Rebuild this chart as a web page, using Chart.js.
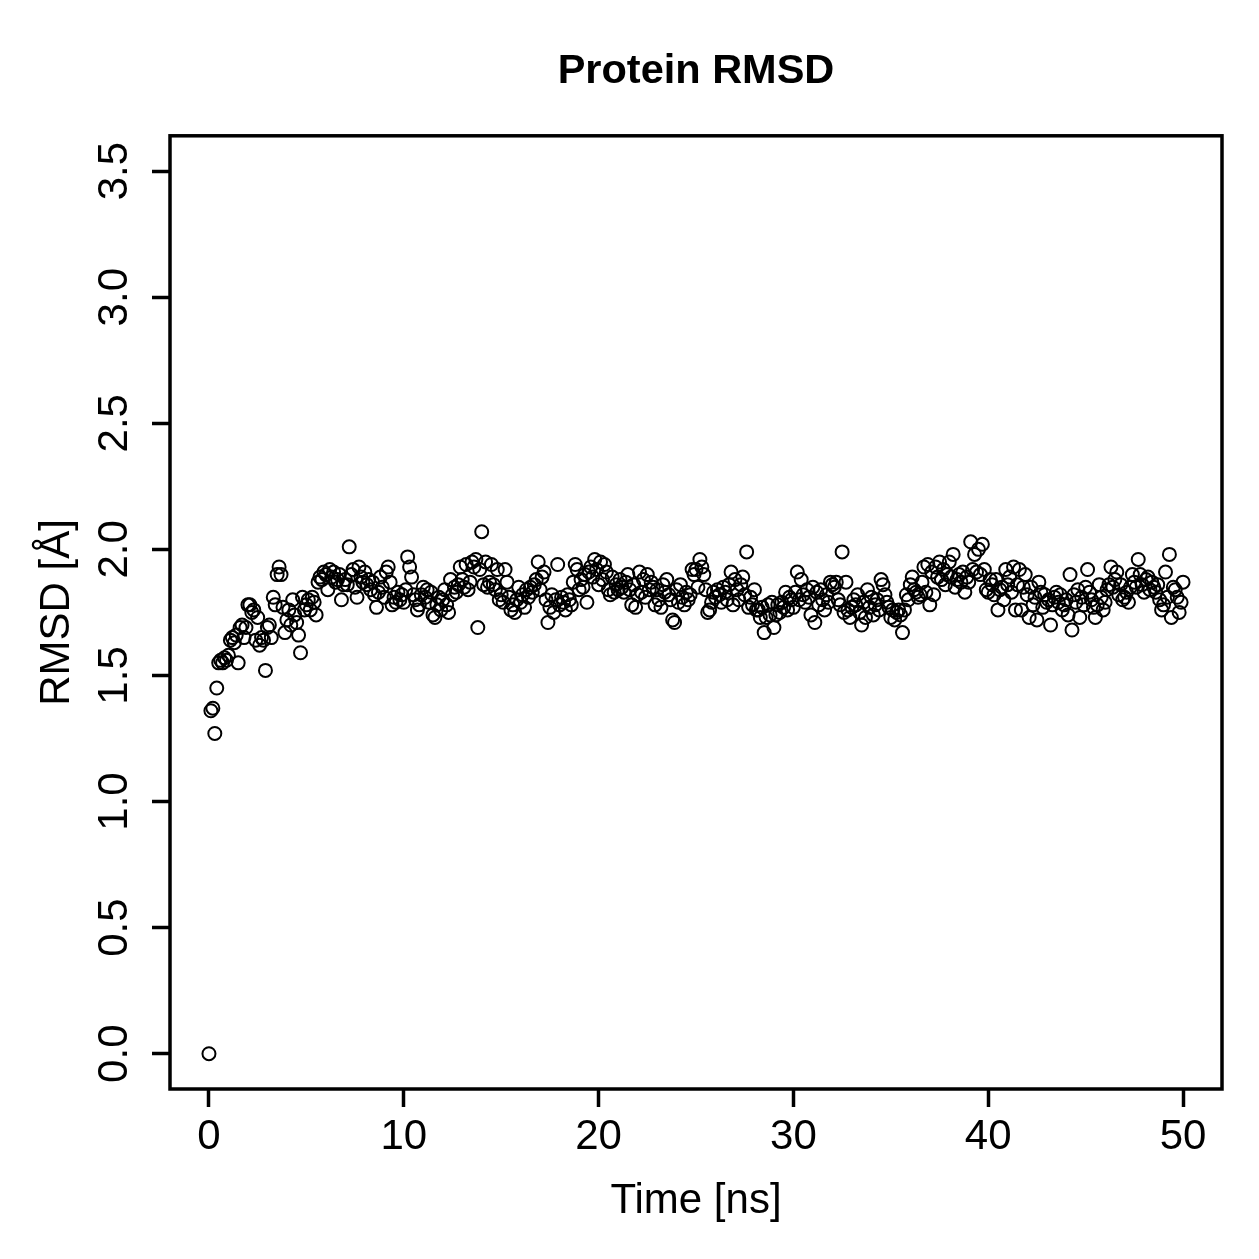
<!DOCTYPE html>
<html>
<head>
<meta charset="utf-8">
<title>Protein RMSD</title>
<script src="https://cdn.jsdelivr.net/npm/chart.js@4.4.1/dist/chart.umd.min.js"></script>
<style>
  html, body { margin: 0; padding: 0; background: #fff; }
  #chart { display: block; }
</style>
</head>
<body>
<canvas id="chart" width="1259" height="1259"></canvas>
<script>
// RMSD samples every 0.1 ns, in 5 ns blocks
const timeStepNs = 0.1;

const rmsd_00_05 = [0.00,1.36,1.37,1.27,1.45,1.55,1.56,1.55,1.57,1.56,
  1.58,1.64,1.65,1.63,1.66,1.55,1.69,1.70,1.65,1.69,
  1.78,1.78,1.75,1.76,1.64,1.73,1.62,1.65,1.64,1.52,
  1.69,1.70,1.65,1.81,1.78,1.90,1.93,1.90,1.77,1.67,
  1.72,1.76,1.70,1.80,1.74,1.71,1.66,1.59,1.81,1.76];
const rmsd_05_10 = [1.78,1.80,1.76,1.81,1.79,1.74,1.87,1.89,1.88,1.91,
  1.90,1.84,1.92,1.89,1.91,1.87,1.88,1.90,1.80,1.86,
  1.88,1.86,2.01,1.90,1.92,1.85,1.81,1.93,1.89,1.87,
  1.91,1.86,1.88,1.84,1.87,1.82,1.77,1.83,1.89,1.85,
  1.81,1.91,1.93,1.87,1.78,1.81,1.79,1.83,1.80,1.82];
const rmsd_10_15 = [1.79,1.84,1.97,1.93,1.89,1.82,1.80,1.76,1.78,1.82,
  1.85,1.81,1.84,1.79,1.83,1.74,1.73,1.78,1.81,1.76,
  1.80,1.84,1.78,1.75,1.88,1.82,1.85,1.83,1.86,1.93,
  1.88,1.85,1.94,1.84,1.87,1.95,1.93,1.96,1.69,1.92,
  2.07,1.86,1.95,1.85,1.87,1.94,1.86,1.84,1.92,1.80];
const rmsd_15_20 = [1.82,1.79,1.92,1.87,1.81,1.76,1.78,1.75,1.80,1.85,
  1.79,1.82,1.77,1.84,1.81,1.85,1.83,1.86,1.88,1.95,
  1.84,1.89,1.91,1.80,1.71,1.77,1.82,1.75,1.80,1.94,
  1.78,1.81,1.79,1.76,1.82,1.80,1.78,1.87,1.94,1.92,
  1.84,1.88,1.85,1.90,1.79,1.91,1.93,1.89,1.96,1.92];
const rmsd_20_25 = [1.86,1.95,1.88,1.94,1.91,1.84,1.82,1.89,1.83,1.86,
  1.84,1.88,1.85,1.83,1.87,1.90,1.84,1.78,1.86,1.77,
  1.82,1.91,1.83,1.88,1.81,1.90,1.84,1.87,1.85,1.78,
  1.84,1.80,1.77,1.86,1.83,1.88,1.82,1.80,1.72,1.71,
  1.84,1.79,1.86,1.81,1.78,1.83,1.80,1.82,1.92,1.90];
const rmsd_25_30 = [1.92,1.85,1.96,1.93,1.90,1.84,1.75,1.76,1.79,1.83,
  1.81,1.84,1.82,1.79,1.85,1.83,1.80,1.86,1.91,1.78,
  1.88,1.84,1.80,1.86,1.89,1.82,1.99,1.77,1.81,1.78,
  1.84,1.76,1.76,1.73,1.77,1.67,1.73,1.78,1.74,1.79,
  1.69,1.74,1.78,1.75,1.79,1.77,1.83,1.76,1.81,1.80];
const rmsd_30_35 = [1.77,1.83,1.91,1.80,1.88,1.82,1.79,1.84,1.81,1.74,
  1.85,1.71,1.83,1.78,1.84,1.80,1.76,1.82,1.79,1.87,
  1.86,1.85,1.87,1.80,1.78,1.99,1.75,1.87,1.76,1.73,
  1.77,1.80,1.78,1.82,1.75,1.70,1.79,1.73,1.84,1.77,
  1.81,1.74,1.78,1.80,1.76,1.88,1.86,1.82,1.79,1.77];
const rmsd_35_40 = [1.73,1.76,1.72,1.75,1.76,1.74,1.67,1.76,1.82,1.80,
  1.86,1.89,1.84,1.83,1.81,1.82,1.87,1.93,1.83,1.94,
  1.78,1.91,1.82,1.93,1.89,1.95,1.88,1.92,1.86,1.90,
  1.95,1.89,1.98,1.85,1.88,1.90,1.87,1.91,1.83,1.89,
  1.87,2.03,1.92,1.98,1.91,2.00,1.90,2.02,1.92,1.84];
const rmsd_40_45 = [1.83,1.88,1.86,1.82,1.88,1.76,1.84,1.85,1.80,1.92,
  1.86,1.89,1.83,1.93,1.76,1.86,1.92,1.76,1.85,1.90,
  1.82,1.73,1.85,1.78,1.81,1.72,1.87,1.83,1.77,1.82,
  1.79,1.80,1.70,1.78,1.81,1.83,1.79,1.82,1.76,1.78,
  1.80,1.74,1.90,1.68,1.82,1.79,1.84,1.73,1.81,1.78];
const rmsd_45_50 = [1.85,1.92,1.83,1.80,1.77,1.73,1.78,1.86,1.81,1.76,
  1.79,1.84,1.86,1.93,1.85,1.88,1.91,1.82,1.86,1.80,
  1.81,1.83,1.79,1.85,1.90,1.87,1.85,1.96,1.90,1.86,
  1.83,1.88,1.89,1.84,1.87,1.85,1.83,1.86,1.80,1.76,
  1.78,1.91,1.81,1.98,1.73,1.85,1.84,1.81,1.75,1.79];
const rmsd_50 = [1.87];

const xTickValues = [0, 10, 20, 30, 40, 50];
const yTickValues = [0, 0.5, 1.0, 1.5, 2.0, 2.5, 3.0, 3.5];

const rmsd = [].concat(rmsd_00_05, rmsd_05_10, rmsd_10_15, rmsd_15_20, rmsd_20_25,
  rmsd_25_30, rmsd_30_35, rmsd_35_40, rmsd_40_45, rmsd_45_50, rmsd_50);
const points = rmsd.map((v, i) => ({ x: +(i * timeStepNs).toFixed(1), y: v }));

const FONT = 'Liberation Sans, Arial, Helvetica, sans-serif';

// R style box round the plot region
const boxPlugin = {
  id: 'plotBox',
  afterDraw(chart) {
    const a = chart.chartArea;
    const ctx = chart.ctx;
    ctx.save();
    ctx.strokeStyle = '#000';
    ctx.lineWidth = 3.5;
    ctx.strokeRect(a.left, a.top, a.right - a.left, a.bottom - a.top);
    ctx.restore();
  }
};

new Chart(document.getElementById('chart'), {
  type: 'scatter',
  data: {
    datasets: [{
      data: points,
      pointStyle: 'circle',
      pointRadius: 6.5,
      pointHoverRadius: 6.5,
      borderWidth: 2,
      borderColor: '#000',
      backgroundColor: 'rgba(0,0,0,0)'
    }]
  },
  options: {
    responsive: false,
    animation: false,
    devicePixelRatio: 1,
    layout: { padding: { top: 0, right: 37, bottom: 0, left: 0 } },
    plugins: {
      legend: { display: false },
      tooltip: { enabled: false },
      title: {
        display: true,
        text: 'Protein RMSD',
        fullSize: false,
        color: '#000',
        font: { family: FONT, size: 41.5, weight: 'bold', lineHeight: 1.2 },
        padding: { top: 47, bottom: 39 }
      }
    },
    scales: {
      x: {
        type: 'linear',
        min: -2,
        max: 52,
        afterBuildTicks: s => { s.ticks = xTickValues.map(v => ({ value: v })); },
        afterFit: s => { s.height = 170; },
        border: { display: false },
        grid: { drawOnChartArea: false, drawTicks: true, tickLength: 18, tickWidth: 3.5, tickColor: '#000' },
        ticks: {
          color: '#000',
          font: { family: FONT, size: 42, lineHeight: 1.2 },
          padding: 5,
          maxRotation: 0,
          callback: v => String(v)
        },
        title: {
          display: true,
          text: 'Time [ns]',
          color: '#000',
          font: { family: FONT, size: 42, lineHeight: 1.2 },
          padding: { top: 0, bottom: 32 }
        }
      },
      y: {
        type: 'linear',
        min: -0.14,
        max: 3.64,
        afterBuildTicks: s => { s.ticks = yTickValues.map(v => ({ value: v })); },
        afterFit: s => { s.width = 170; },
        border: { display: false },
        grid: { drawOnChartArea: false, drawTicks: true, tickLength: 18, tickWidth: 3.5, tickColor: '#000' },
        ticks: {
          color: '#000',
          font: { family: FONT, size: 42, lineHeight: 1.2 },
          padding: 7,
          minRotation: 90,
          maxRotation: 90,
          crossAlign: 'center',
          callback: v => Number(v).toFixed(1)
        },
        title: {
          display: true,
          text: 'RMSD [Å]',
          color: '#000',
          font: { family: FONT, size: 42, lineHeight: 1.2 },
          padding: { top: 32, bottom: 0 }
        }
      }
    }
  },
  plugins: [boxPlugin]
});
</script>
</body>
</html>
